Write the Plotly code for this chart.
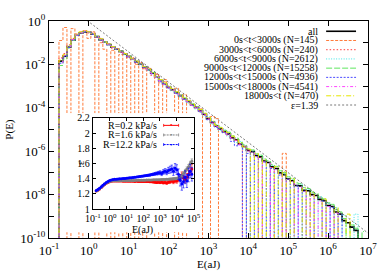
import plotly.graph_objects as go

N = None

# ---------------- main panel: P(E) histograms (log10 values, N = empty bin) ----------------
bin_logE = [round(-0.8 + 0.1 * i, 1) for i in range(78)]   # bin centres, log10(E/aJ)

all_logP = [
    -1.85, -1.62, -1.20, -0.88, -0.66, -0.55, -0.50, -0.52, -0.60, -0.72,
    -0.86, -0.97, -1.08, -1.20, -1.30, -1.40, -1.52, -1.63, -1.75, -1.87,
    -1.99, -2.12, -2.25, -2.40, -2.57, -2.74, -2.90, -3.04, -3.17, -3.30,
    -3.44, -3.58, -3.71, -3.86, -3.98, -4.13, -4.30, -4.50, -4.67, -4.84,
    -4.97, -5.10, -5.20, -5.38, -5.48, -5.68, -5.78, -5.96, -6.02, -6.20,
    -6.26, -6.45, -6.52, -6.72, -6.80, -7.00, -7.08, -7.28, -7.36, -7.58,
    -7.60, -7.80, -7.82, -8.00, -8.04, -8.22, -8.28, -8.50, -8.55, -8.80,
    -8.90, -9.20, -9.30, -9.50, -9.65]

t0_3000_logP = [
    -0.90, -0.30, N, -0.35, -0.60, N, -0.45, -0.80, -0.50, N,
    -1.00, -1.30, N, -1.35, N, -1.55, N, -1.60, N, -2.00,
    N, -2.20, N, N, -2.45, N, -2.70, N, N, -3.10,
    N, -3.40, N, N, N, -4.05, N, N, -4.40, -4.50,
    N, N, N, N, N, N, N, N, N, N,
    N, N, N, N, N, N, -6.10]

t3000_6000_logP = [
    -1.70, -1.50, -1.10, -0.80, -0.62, -0.50, -0.45, -0.55, -0.55, -0.75,
    -0.80, -1.00, -1.05, -1.25, -1.28, -1.45, -1.48, -1.70, -1.70, -1.95,
    -1.92, -2.20, -2.15, -2.50, -2.45, -2.85, -2.80, -3.00, -3.20, -3.28,
    -3.46, -3.55, -3.75, -3.84, -4.00, -4.12, -4.35, -4.48, -4.70, -4.82,
    -5.00, -5.08, -5.25, -5.35, -5.50, -5.65, N, -5.95, N, N,
    -6.30, N, N, -6.75]

t6000_9000_logP = [
    -1.90, -1.60, -1.15, -0.85, -0.63, -0.53, -0.48, -0.50, -0.58, -0.70,
    -0.84, -0.95, -1.10, -1.18, -1.32, -1.38, -1.55, -1.60, -1.78, -1.85,
    -2.02, -2.10, -2.28, -2.38, -2.60, -2.72, -2.95, -3.00, -3.22, -3.26,
    -3.50, -3.55, -3.78, -3.80, -4.05, -4.08, -4.38, -4.42, -4.75, -4.78,
    -5.05, -5.02, -5.30, -5.28, -5.60, -5.55, -5.90, N, -6.00, N,
    -6.20, -6.50, N, -6.65, N, -6.95, -7.05, N, -7.30, N,
    -7.50, N, -7.75, -7.90, N, -8.10, N, -8.40, N, -8.60,
    N, -8.95, N, N, -8.90]

t9000_12000_logP = [
    -2.05, -1.75, -1.25, -0.90, -0.67, -0.55, -0.50, -0.53, -0.60, -0.71,
    -0.85, -0.98, -1.07, -1.21, -1.29, -1.41, -1.51, -1.62, -1.76, -1.86,
    -1.98, -2.11, -2.24, -2.38, -2.56, -2.72, -2.88, -3.02, -3.15, -3.28,
    -3.42, -3.55, -3.69, -3.83, -3.95, -4.10, -4.26, -4.45, -4.62, -4.78,
    -4.90, -5.04, -5.12, -5.30, -5.40, -5.60, -5.70, -5.88, -5.94, -6.12,
    -6.18, -6.36, -6.44, -6.62, -6.70, -6.90, -6.98, -7.18, -7.25, -7.46,
    -7.50, -7.68, -7.72, -7.88, -7.95, -8.12, -8.20, -8.38, -8.45, -8.70,
    -8.80, -9.10, N, -9.40, -9.55, N, -9.70]

t12000_15000_logP = [
    -1.95, -1.65, -1.22, -0.88, -0.67, -0.56, -0.50, -0.52, -0.62, -0.73,
    -0.87, -0.96, -1.10, -1.19, -1.31, -1.42, -1.50, -1.66, -1.73, -1.90,
    -1.97, -2.15, -2.22, -2.44, -2.55, -2.80, -2.88, -3.10, -3.15, -3.35,
    -3.42, -3.62, -3.70, -3.90, -3.97, -4.20, -4.28, -4.55, -4.65, -4.90,
    -4.95, -5.15, -5.20, -5.55, -5.75, -5.70, N, -6.10, N, -6.25,
    N, -6.50, N, -6.80, N, -7.10, N, -7.30, N, -7.60,
    N, -7.85, N, -8.05, N, N, -8.30, N, -8.60, N,
    -8.90]

t15000_18000_logP = [
    -1.90, -1.58, -1.18, -0.86, -0.65, -0.54, -0.49, -0.51, -0.59, -0.72,
    -0.86, -0.98, -1.07, -1.21, -1.29, -1.41, -1.52, -1.62, -1.76, -1.86,
    -2.00, -2.12, -2.26, -2.41, -2.58, -2.74, -2.92, -3.05, -3.18, -3.32,
    -3.45, -3.60, -3.72, -3.88, -4.00, -4.15, -4.32, -4.52, -4.70, -4.86,
    -5.00, -5.12, -5.24, -5.40, -5.50, -5.70, -5.80, -6.00, -6.05, -6.25,
    N, -6.50, -6.55, N, -6.85, -7.05, N, -7.30, -7.40, N,
    -7.65, -7.85, N, -8.05, N, -8.30, N, -8.55, N, -8.85]

t18000_logP = [
    -1.80, -1.55, -1.15, -0.82, -0.60, -0.50, -0.45, -0.50, -0.58, -0.70,
    -0.82, -0.95, -1.05, -1.18, -1.28, -1.38, -1.50, -1.60, -1.72, -1.85,
    -1.95, -2.10, -2.20, -2.36, -2.55, -2.70, -2.85, -3.00, -3.12, -3.26,
    -3.40, -3.52, -3.66, -3.82, -3.95, -4.08, -4.25, -4.45, -4.62, -4.80,
    -4.92, -5.08, -5.15, -5.30, -5.48, -5.60, -5.80, -5.90, N, -6.10,
    N, -6.40, N, N, -6.70, N, -6.95, N, -7.25, N,
    N, -7.70, N, -7.90, N, N, -8.20, N, N, -8.60,
    N, N, -8.90]

series_names = ["all", "0s&lt;t&lt;3000s (N=145)", "3000s&lt;t&lt;6000s (N=240)",
                "6000s&lt;t&lt;9000s (N=2612)", "9000s&lt;t&lt;12000s (N=15258)",
                "12000s&lt;t&lt;15000s (N=4936)", "15000s&lt;t&lt;18000s (N=4541)",
                "18000s&lt;t (N=470)"]
series_vals = [all_logP, t0_3000_logP, t3000_6000_logP, t6000_9000_logP,
               t9000_12000_logP, t12000_15000_logP, t15000_18000_logP, t18000_logP]
series_colors = ["#000000", "#ff7b3a", "#ff3a3a", "#3ee6e6", "#5ee65e",
                 "#4a4aff", "#ff46ff", "#e6e600"]
series_dash = ["solid", "3px,1.5px", "1.5px,2px", "1px,1.5px", "6px,2px",
               "2px,1.5px", "3px,2px,1px,2px", "5px,2px,1px,2px"]
series_width = [1.6, 1, 1, 1, 1, 1, 1, 1]

# power-law reference line P = A * E^-eps
fit_eps = 1.39
fit_amp = 0.91
fit_E = [0.9, 1e7]

# ---------------- inset: exponent vs E ----------------
inset_logE = [round(-0.8 + 0.1 * i, 1) for i in range(58)]

eps_r02 = [
    1.240, 1.250, 1.265, 1.285, 1.305, 1.325, 1.340, 1.352, 1.362, 1.368,
    1.371, 1.372, 1.372, 1.371, 1.370, 1.370, 1.369, 1.369, 1.368, 1.368,
    1.367, 1.368, 1.367, 1.366, 1.367, 1.366, 1.365, 1.366, 1.364, 1.365,
    1.363, 1.364, 1.362, 1.360, 1.358, 1.355, 1.352, 1.355, 1.350, 1.356,
    1.348, 1.352, 1.345, 1.355, 1.360, 1.370, 1.360, 1.375, 1.370, 1.390,
    1.420, 1.450, 1.410, 1.390, 1.420, 1.460, 1.500, 1.530]
err_r02 = [
    0.003, 0.003, 0.003, 0.003, 0.003, 0.003, 0.003, 0.003, 0.003, 0.003,
    0.003, 0.003, 0.003, 0.003, 0.003, 0.003, 0.003, 0.003, 0.003, 0.003,
    0.004, 0.004, 0.004, 0.004, 0.005, 0.005, 0.005, 0.006, 0.006, 0.007,
    0.007, 0.008, 0.008, 0.009, 0.010, 0.010, 0.011, 0.012, 0.013, 0.014,
    0.015, 0.016, 0.017, 0.018, 0.020, 0.022, 0.024, 0.026, 0.028, 0.030,
    0.035, 0.040, 0.040, 0.045, 0.050, 0.050, 0.055, 0.060]

eps_r16 = [
    1.240, 1.252, 1.268, 1.288, 1.308, 1.327, 1.343, 1.355, 1.364, 1.370,
    1.373, 1.374, 1.375, 1.375, 1.375, 1.376, 1.376, 1.376, 1.377, 1.377,
    1.378, 1.378, 1.379, 1.379, 1.380, 1.380, 1.381, 1.381, 1.382, 1.382,
    1.383, 1.384, 1.384, 1.385, 1.386, 1.386, 1.387, 1.388, 1.389, 1.390,
    1.390, 1.392, 1.393, 1.395, 1.396, 1.398, 1.400, 1.402, 1.405, 1.410,
    1.420, 1.440, 1.470, 1.500, 1.530, 1.560, 1.600, 1.630]
err_r16 = [
    0.002, 0.002, 0.002, 0.002, 0.002, 0.002, 0.002, 0.002, 0.002, 0.002,
    0.002, 0.002, 0.002, 0.002, 0.002, 0.002, 0.002, 0.002, 0.002, 0.002,
    0.003, 0.003, 0.003, 0.003, 0.003, 0.003, 0.004, 0.004, 0.004, 0.004,
    0.005, 0.005, 0.005, 0.006, 0.006, 0.006, 0.007, 0.007, 0.008, 0.008,
    0.009, 0.009, 0.010, 0.010, 0.011, 0.012, 0.013, 0.014, 0.015, 0.016,
    0.018, 0.020, 0.022, 0.024, 0.026, 0.028, 0.030, 0.032]

eps_r122 = [
    1.245, 1.258, 1.275, 1.295, 1.315, 1.335, 1.352, 1.366, 1.377, 1.385,
    1.390, 1.393, 1.395, 1.397, 1.399, 1.401, 1.403, 1.405, 1.407, 1.410,
    1.413, 1.415, 1.418, 1.420, 1.424, 1.427, 1.430, 1.433, 1.436, 1.440,
    1.443, 1.447, 1.450, 1.455, 1.460, 1.465, 1.470, 1.475, 1.480, 1.470,
    1.490, 1.500, 1.490, 1.510, 1.520, 1.530, 1.500, 1.540, 1.520, 1.460,
    1.380, 1.330, 1.360, 1.420, 1.370, 1.450, 1.500, 1.460]
err_r122 = [
    0.003, 0.003, 0.003, 0.003, 0.003, 0.003, 0.003, 0.003, 0.003, 0.003,
    0.003, 0.003, 0.003, 0.003, 0.003, 0.003, 0.004, 0.004, 0.004, 0.004,
    0.005, 0.005, 0.005, 0.006, 0.006, 0.007, 0.007, 0.008, 0.009, 0.010,
    0.011, 0.012, 0.013, 0.014, 0.016, 0.018, 0.020, 0.022, 0.025, 0.028,
    0.030, 0.033, 0.036, 0.040, 0.045, 0.050, 0.055, 0.060, 0.065, 0.070,
    0.075, 0.080, 0.080, 0.085, 0.085, 0.090, 0.090, 0.090]

inset_names = ["R=0.2 kPa/s", "R=1.6 kPa/s", "R=12.2 kPa/s"]
inset_vals = [eps_r02, eps_r16, eps_r122]
inset_errs = [err_r02, err_r16, err_r122]
inset_colors = ["#ff0000", "#808080", "#0000ff"]
inset_dash = ["solid", "2px,1px", "2px,1px"]

main_xticks = [-1, 0, 1, 2, 3, 4, 5, 6, 7]
main_yticks = [0, -1, -2, -3, -4, -5, -6, -7, -8, -9, -10]
inset_xticks = [-1, 0, 1, 2, 3, 4, 5]
inset_yticks = [1, 1.2, 1.4, 1.6, 1.8, 2, 2.2]
inset_yticktext = ["1", "1.2", "1.4", "1.6", "1.8", "2", "2.2"]

# ---------------- build figure ----------------
FONT = "Liberation Serif"
W, H = 389, 273
L, R, T, B = 49, 20, 12, 35          # main plot area in px
PW, PH = W - L - R, H - T - B


def px2paper(px, py):
    return (px - L) / PW, (H - B - py) / PH


E_bins = [10 ** v for v in bin_logE]


def to_P(vals):
    full = [None] + list(vals)
    full += [None] * (len(bin_logE) - len(full))
    return [10 ** v if v is not None else 1e-12 for v in full]


fig = go.Figure()
for name, vals, col, dash, w in zip(series_names, series_vals, series_colors,
                                    series_dash, series_width):
    fig.add_trace(go.Scatter(x=E_bins, y=to_P(vals), mode="lines", name=name,
                             line=dict(shape="hvh", color=col, dash=dash, width=w),
                             showlegend=False, hoverinfo="skip"))

fig.add_trace(go.Scatter(x=fit_E, y=[fit_amp * e ** (-fit_eps) for e in fit_E],
                         mode="lines", line=dict(color="#555555", dash="2px,2px", width=0.8),
                         showlegend=False, hoverinfo="skip"))

# empty trace that creates the inset's white "canvas" subplot (x2/y2)
fig.add_trace(go.Scatter(x=[], y=[], xaxis="x2", yaxis="y2", showlegend=False,
                         hoverinfo="skip"))

inset_E = [10 ** v for v in inset_logE]
for name, vals, errs, col, dash in zip(inset_names, inset_vals, inset_errs,
                                       inset_colors, inset_dash):
    fig.add_trace(go.Scatter(x=inset_E, y=vals, xaxis="x3", yaxis="y3",
                             mode="lines+markers", name=name,
                             line=dict(color=col, width=1, dash=dash),
                             marker=dict(color=col, size=3),
                             error_y=dict(type="data", array=errs, color=col,
                                          thickness=0.6, width=1.2),
                             showlegend=False, hoverinfo="skip"))


def sup(e):
    return "10<sup>%d</sup>" % e


axis_common = dict(showgrid=False, zeroline=False, showline=True, linecolor="black",
                   linewidth=1, mirror="allticks", ticks="inside", tickcolor="black",
                   tickwidth=1, tickangle=0)

fig.update_layout(
    width=W, height=H, autosize=False,
    margin=dict(l=L, r=R, t=T, b=B, pad=0),
    paper_bgcolor="white", plot_bgcolor="white",
    font=dict(family=FONT, color="black", size=11),
    showlegend=False,
    xaxis=dict(type="log", range=[-1, 7], domain=[0, 1], anchor="y",
               tickvals=[10 ** v for v in main_xticks],
               ticktext=[sup(v) for v in main_xticks],
               ticklen=5, tickfont=dict(size=13, family=FONT), **axis_common),
    yaxis=dict(type="log", range=[-10, 0], domain=[0, 1], anchor="x",
               tickvals=[10 ** v for v in main_yticks],
               ticktext=[sup(v) if v % 2 == 0 else "" for v in main_yticks],
               ticklen=5, tickfont=dict(size=13, family=FONT), **axis_common),
)

# white canvas behind the inset (covers its labels area, like a cleared multiplot)
cx0, cy1 = px2paper(66, 108)
cx1, cy0 = px2paper(200, 232)
fig.update_layout(
    xaxis2=dict(visible=False, range=[0, 1], domain=[cx0, cx1], anchor="y2", fixedrange=True),
    yaxis2=dict(visible=False, range=[0, 1], domain=[cy0, cy1], anchor="x2", fixedrange=True),
)

ix0, iy1 = px2paper(93, 113)
ix1, iy0 = px2paper(194, 208)
fig.update_layout(
    xaxis3=dict(type="log", range=[-1, 5], domain=[ix0, ix1], anchor="y3",
                tickvals=[10 ** v for v in inset_xticks],
                ticktext=[sup(v) for v in inset_xticks],
                ticklen=3, tickfont=dict(size=10, family=FONT), **axis_common),
    yaxis3=dict(range=[1, 2.2], domain=[iy0, iy1], anchor="x3",
                tickvals=inset_yticks, ticktext=inset_yticktext,
                ticklen=3, tickfont=dict(size=10, family=FONT), **axis_common),
)

shapes = [dict(type="rect", xref="x2", yref="y2", x0=0, x1=1, y0=0, y1=1,
               fillcolor="white", line=dict(width=0), layer="below")]
annotations = []

# axis titles
for text, px, py, ang, size in [("P(E)", 9, 125, -90, 11), ("E(aJ)", 209, 266, 0, 11),
                                ("ε", 80, 160, -90, 10), ("E(aJ)", 143, 230, 0, 10)]:
    xp, yp = px2paper(px, py)
    annotations.append(dict(text=text, x=xp, y=yp, xref="paper", yref="paper",
                            showarrow=False, textangle=ang, xanchor="center",
                            yanchor="middle", font=dict(size=size, family=FONT)))

# main key
key_names = series_names + ["ε=1.39"]
key_colors = series_colors + ["#555555"]
key_dash = series_dash + ["2px,2px"]
key_width = series_width + [0.8]
for i, (nm, col, dsh, w) in enumerate(zip(key_names, key_colors, key_dash, key_width)):
    py = 22.7 + 9.6 * i
    xt, yt = px2paper(321, py)
    annotations.append(dict(text=nm, x=xt, y=yt, xref="paper", yref="paper",
                            showarrow=False, xanchor="right", yanchor="middle",
                            font=dict(size=10, family=FONT)))
    xa, _ = px2paper(327, py)
    xb, _ = px2paper(357, py)
    shapes.append(dict(type="line", xref="paper", yref="paper", x0=xa, x1=xb, y0=yt, y1=yt,
                       line=dict(color=col, dash=dsh, width=w), layer="above"))

# inset key
for i, (nm, col, dsh) in enumerate(zip(inset_names, inset_colors, inset_dash)):
    py = 120.7 + 10 * i
    xt, yt = px2paper(159, py)
    annotations.append(dict(text=nm, x=xt, y=yt, xref="paper", yref="paper",
                            showarrow=False, xanchor="right", yanchor="middle",
                            font=dict(size=10, family=FONT)))
    xa, _ = px2paper(164, py)
    xb, _ = px2paper(179, py)
    xm, _ = px2paper(171.5, py)
    _, ya = px2paper(0, py - 1.5)
    _, yb = px2paper(0, py + 1.5)
    shapes.append(dict(type="line", xref="paper", yref="paper", x0=xa, x1=xb, y0=yt, y1=yt,
                       line=dict(color=col, dash=dsh, width=1), layer="above"))
    for xx in (xa, xb):
        shapes.append(dict(type="line", xref="paper", yref="paper", x0=xx, x1=xx, y0=ya, y1=yb,
                           line=dict(color=col, width=0.8), layer="above"))
    annotations.append(dict(text="•", x=xm, y=yt, xref="paper", yref="paper",
                            showarrow=False, xanchor="center", yanchor="middle",
                            font=dict(size=7, color=col)))

fig.update_layout(shapes=shapes, annotations=annotations)

fig.write_html("out.html", config={"displayModeBar": False},
               post_script="document.body.style.margin='0';")
